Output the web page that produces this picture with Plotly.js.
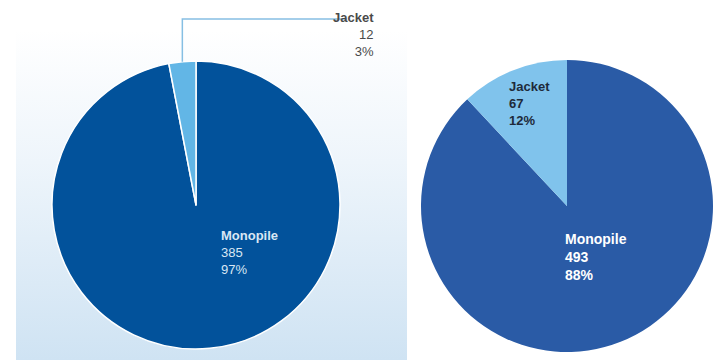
<!DOCTYPE html>
<html>
<head>
<meta charset="utf-8">
<script src="https://cdn.plot.ly/plotly-3.0.1.min.js"></script>
<style>
  html, body { margin: 0; padding: 0; background: #ffffff; }
  #wrap { position: relative; width: 718px; height: 360px; }
  #bg { position: absolute; left: 16px; top: 30px; width: 391px; height: 330px;
        background: linear-gradient(to bottom, #ffffff 0%, #eef5fb 40%, #cfe3f3 100%); }
  #chart { position: absolute; left: 0; top: 0; width: 718px; height: 360px; }
</style>
</head>
<body>
<div id="wrap">
  <div id="bg"></div>
  <div id="chart"></div>
</div>
<script>
// Data
const categories = ["Jacket", "Monopile"];
const leftValues = [12, 385];
const rightValues = [67, 493];

const W = 718, H = 360;
const FONT = "Liberation Sans, Arial, sans-serif";

function pct(vals, i) {
  const s = vals.reduce((a, b) => a + b, 0);
  return Math.round(vals[i] / s * 100);
}
function labelText(vals, i, boldAll) {
  if (boldAll) return `<b>${categories[i]}<br>${vals[i]}<br>${pct(vals, i)}%</b>`;
  return `<b>${categories[i]}</b><br>${vals[i]}<br>${pct(vals, i)}%`;
}

// Pie geometry (pixels)
const leftPie = { cx: 196, cy: 205, r: 144 };
const rightPie = { cx: 567, cy: 206, r: 146 };
function domainOf(p) {
  return {
    x: [(p.cx - p.r) / W, (p.cx + p.r) / W],
    y: [1 - (p.cy + p.r) / H, 1 - (p.cy - p.r) / H]
  };
}
// Monopile drawn first clockwise from 12 o'clock, so Jacket sits just left of 12
const rev = a => a.slice().reverse();

const traces = [
  {
    type: "pie",
    labels: rev(categories),
    values: rev(leftValues),
    sort: false,
    direction: "clockwise",
    rotation: 0,
    textinfo: "none",
    hoverinfo: "label+value+percent",
    marker: { colors: ["#02529b", "#62b6e6"], line: { color: "#ffffff", width: 1.5 } },
    domain: domainOf(leftPie),
    showlegend: false
  },
  {
    type: "pie",
    labels: rev(categories),
    values: rev(rightValues),
    sort: false,
    direction: "clockwise",
    rotation: 0,
    textinfo: "none",
    hoverinfo: "label+value+percent",
    marker: { colors: ["#2a5ba6", "#80c3ec"], line: { color: "#2a5ba6", width: 0 } },
    domain: domainOf(rightPie),
    showlegend: false
  }
];

// Leader line for the small left Jacket slice, from its mid-angle (left of 12 o'clock)
const leftTotal = leftValues.reduce((a, b) => a + b, 0);
const midAng = (leftValues[0] / leftTotal) * Math.PI;
const lx = leftPie.cx - leftPie.r * Math.sin(midAng);
const ly = leftPie.cy - leftPie.r * Math.cos(midAng);
const elbowY = 19, endX = 347;
const px = x => x / W, py = y => 1 - y / H;

const layout = {
  width: W, height: H,
  margin: { l: 0, r: 0, t: 0, b: 0 },
  paper_bgcolor: "rgba(0,0,0,0)",
  plot_bgcolor: "rgba(0,0,0,0)",
  font: { family: FONT },
  shapes: [
    {
      type: "path", xref: "paper", yref: "paper",
      path: `M ${px(lx)} ${py(ly)} L ${px(lx)} ${py(elbowY)} L ${px(endX)} ${py(elbowY)}`,
      line: { color: "#86bfe3", width: 1.5 }
    }
  ],
  annotations: [
    {
      xref: "paper", yref: "paper", x: px(376), y: py(35),
      xanchor: "right", yanchor: "middle", align: "right", showarrow: false,
      text: labelText(leftValues, 0, false),
      font: { family: FONT, size: 13, color: "#4a4a4a" }
    },
    {
      xref: "paper", yref: "paper", x: px(219), y: py(253),
      xanchor: "left", yanchor: "middle", align: "left", showarrow: false,
      text: labelText(leftValues, 1, false),
      font: { family: FONT, size: 13, color: "#d9e7f4" }
    },
    {
      xref: "paper", yref: "paper", x: px(507), y: py(104),
      xanchor: "left", yanchor: "middle", align: "left", showarrow: false,
      text: labelText(rightValues, 0, true),
      font: { family: FONT, size: 13, color: "#1e2a3a" }
    },
    {
      xref: "paper", yref: "paper", x: px(563), y: py(257),
      xanchor: "left", yanchor: "middle", align: "left", showarrow: false,
      text: labelText(rightValues, 1, true),
      font: { family: FONT, size: 14, color: "#ffffff" }
    }
  ]
};

Plotly.newPlot("chart", traces, layout, { displayModeBar: false, staticPlot: true });
</script>
</body>
</html>
